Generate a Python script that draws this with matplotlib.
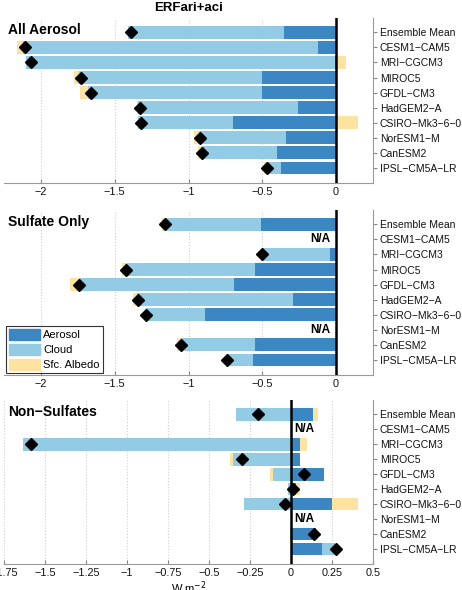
import numpy as np
import matplotlib.pyplot as plt
from matplotlib.patches import Patch

plt.rcParams['font.family'] = ['Liberation Sans', 'DejaVu Sans']

models = ['Ensemble Mean', 'CESM1−CAM5', 'MRI−CGCM3', 'MIROC5', 'GFDL−CM3',
          'HadGEM2−A', 'CSIRO−Mk3−6−0', 'NorESM1−M', 'CanESM2', 'IPSL−CM5A−LR']

# All aerosol (W m-2)
all_aerosol = [-0.35, -0.12, -0.01, -0.50, -0.50, -0.26, -0.70, -0.34, -0.40, -0.37]
all_cloud = [-1.06, -2.00, -2.09, -1.24, -1.18, -1.08, -0.64, -0.59, -0.51, -0.10]
all_albedo = [0.0, -0.045, 0.07, -0.035, -0.055, -0.01, 0.15, -0.03, -0.025, -0.02]
all_total = [-1.39, -2.11, -2.07, -1.725, -1.66, -1.33, -1.32, -0.92, -0.91, -0.47]

# Sulfate only (NaN = not available)
so4_aerosol = [-0.51, np.nan, -0.04, -0.55, -0.69, -0.295, -0.89, np.nan, -0.55, -0.565]
so4_cloud = [-0.65, np.nan, -0.46, -0.875, -1.05, -1.055, -0.395, np.nan, -0.50, -0.17]
so4_albedo = [-0.02, np.nan, 0.0, -0.025, -0.06, -0.025, 0.0, np.nan, -0.025, 0.0]
so4_total = [-1.16, np.nan, -0.50, -1.425, -1.74, -1.345, -1.29, np.nan, -1.05, -0.74]

# Non-sulfates
ns_aerosol = [0.133, np.nan, 0.053, 0.053, 0.20, 0.033, 0.25, np.nan, 0.15, 0.19]
ns_cloud = [-0.333, np.nan, -1.637, -0.355, -0.112, -0.016, -0.286, np.nan, -0.005, 0.08]
ns_albedo = [0.032, np.nan, 0.047, -0.015, -0.015, 0.024, 0.157, np.nan, 0.0, 0.0]
ns_total = [-0.20, np.nan, -1.584, -0.30, 0.082, 0.014, -0.035, np.nan, 0.143, 0.273]

panels = [
    ('All Aerosol', all_aerosol, all_cloud, all_albedo, all_total),
    ('Sulfate Only', so4_aerosol, so4_cloud, so4_albedo, so4_total),
    ('Non−Sulfates', ns_aerosol, ns_cloud, ns_albedo, ns_total),
]

c_aer = '#3a87c3'
c_cld = '#93cbe4'
c_alb = '#fde3a0'

fig = plt.figure(figsize=(4.62, 5.90), dpi=100)
ax_rects = [
    [4/462, 1 - 183/590, 369/462, 165/590],
    [4/462, 1 - 375/590, 369/462, 165/590],
    [4/462, 1 - 564/590, 369/462, 164/590],
]

y = np.arange(1, len(models) + 1)

for i, (name, aer, cld, alb, tot) in enumerate(panels):
    ax = fig.add_axes(ax_rects[i])
    pos = np.zeros(len(models))
    neg = np.zeros(len(models))
    for vals, col in [(aer, c_aer), (cld, c_cld), (alb, c_alb)]:
        v = np.nan_to_num(np.array(vals, dtype=float))
        left = np.where(v >= 0, pos, neg)
        ax.barh(y, v, left=left, height=0.85, color=col, edgecolor='none', zorder=2)
        pos = pos + np.where(v > 0, v, 0)
        neg = neg + np.where(v < 0, v, 0)
    ax.plot(tot, y, 'D', color='black', markersize=5.8, zorder=4)
    ax.axvline(0, color='black', lw=1.8, zorder=3)

    # missing models
    for j, t in enumerate(tot):
        if np.isnan(t):
            if i == 2:
                ax.text(0.02, y[j], 'N/A', fontweight='bold', fontsize=8.5,
                        ha='left', va='center')
            else:
                ax.text(-0.04, y[j], 'N/A', fontweight='bold', fontsize=8.5,
                        ha='right', va='center')

    if i < 2:
        ax.set_xlim(-2.25, 0.25)
        ax.set_xticks([-2, -1.5, -1, -0.5, 0])
        ax.set_xticklabels(['−2', '−1.5', '−1', '−0.5', '0'])
    else:
        ax.set_xlim(-1.75, 0.5)
        ticks = np.arange(-1.75, 0.51, 0.25)
        ax.set_xticks(ticks)
        ax.set_xticklabels(['−1.75', '−1.5', '−1.25', '−1', '−0.75', '−0.5',
                            '−0.25', '0', '0.25', '0.5'])
        ax.set_xlabel('W m$^{-2}$', fontsize=8, labelpad=1)

    ax.set_ylim(11, 0.05)
    ax.set_yticks(y)
    ax.set_yticklabels(models)
    ax.yaxis.tick_right()
    ax.tick_params(axis='y', direction='out', length=3, pad=2, colors='#888888',
                   labelcolor='#111111', labelsize=7.5)
    ax.tick_params(axis='x', direction='in', length=3, pad=3, colors='#888888',
                   labelcolor='#111111', labelsize=7.8)
    ax.grid(axis='x', linestyle=':', color='#cccccc', lw=0.8, zorder=0)
    ax.spines['top'].set_visible(False)
    ax.spines['left'].set_visible(False)
    ax.spines['right'].set_color('#999999')
    ax.spines['bottom'].set_color('#999999')

    ax.text(0.01, 0.925, name, transform=ax.transAxes, fontweight='bold',
            fontsize=10, ha='left', va='center')

    if i == 0:
        ax.set_title('ERFari+aci', fontweight='bold', fontsize=9.5, pad=5)
    if i == 1:
        handles = [Patch(color=c_aer, label='Aerosol'),
                   Patch(color=c_cld, label='Cloud'),
                   Patch(color=c_alb, label='Sfc. Albedo')]
        leg = ax.legend(handles=handles, loc='lower left', fontsize=8,
                        frameon=True, fancybox=False, edgecolor='black',
                        borderpad=0.25, labelspacing=0.3, handlelength=2.8,
                        handleheight=1.2, handletextpad=0.3, borderaxespad=0.2)
        leg.get_frame().set_linewidth(0.8)

fig.savefig('out.png', dpi=100)
